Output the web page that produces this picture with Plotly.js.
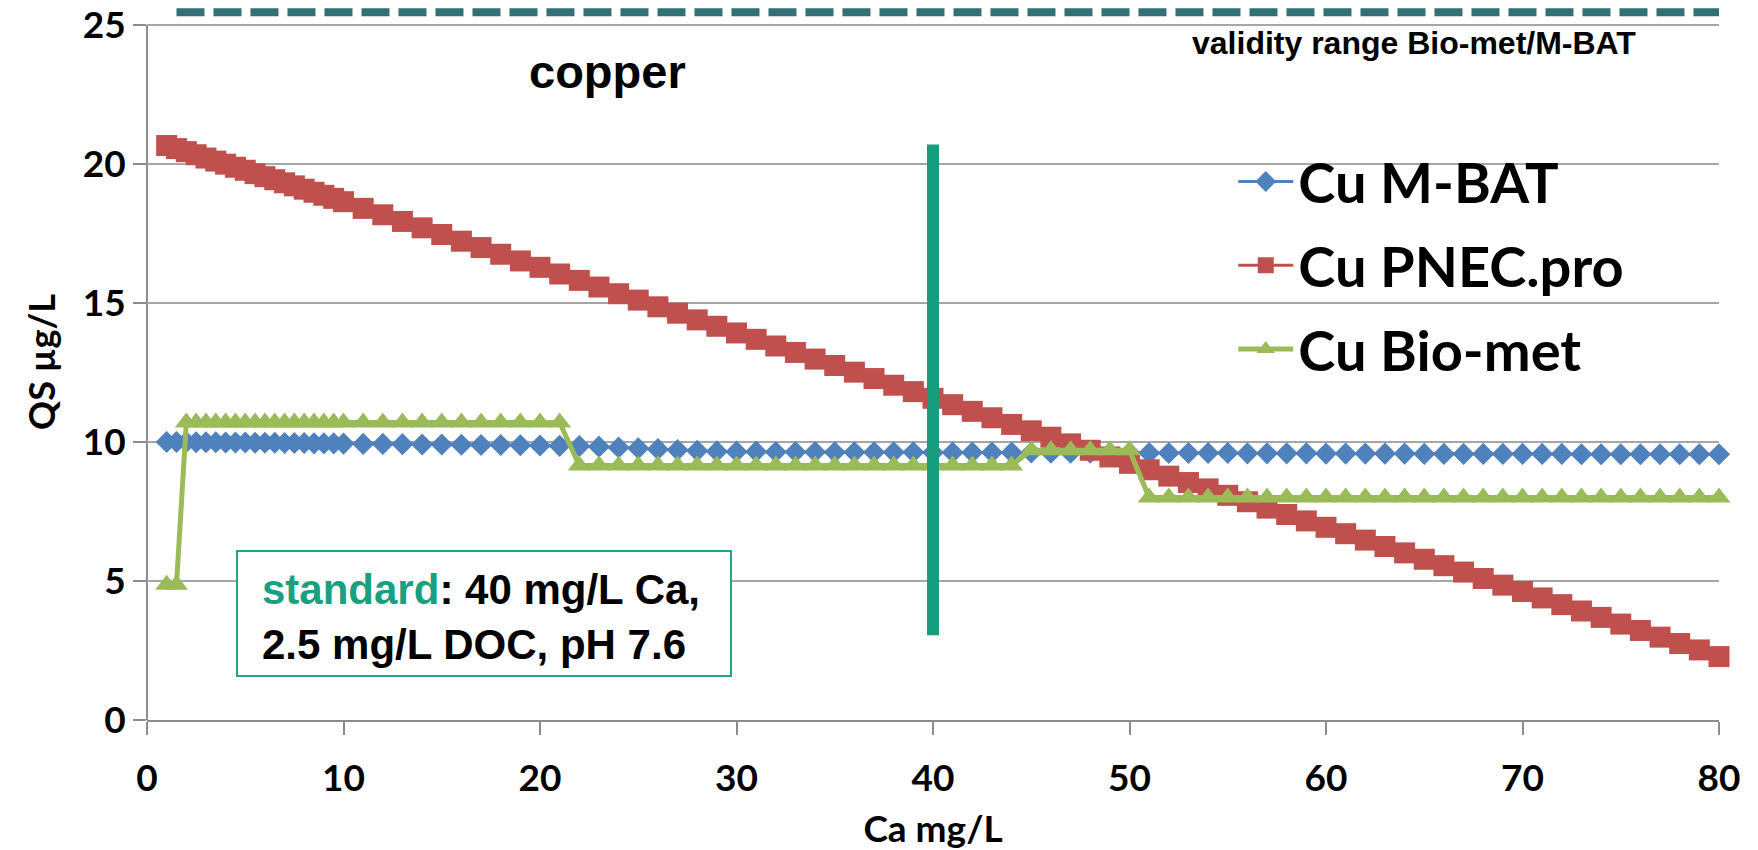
<!DOCTYPE html>
<html>
<head>
<meta charset="utf-8">
<script src="https://cdn.plot.ly/plotly-3.0.1.min.js"></script>
<style>html,body{margin:0;padding:0;background:#fff;}#chart{width:1758px;height:850px;}</style>
</head>
<body>
<div id="chart"></div>
<script>
// Ca concentration (mg/L)
var caX = [1,1.5,2,2.5,3,3.5,4,4.5,5,5.5,6,6.5,7,7.5,8,8.5,9,9.5,10,
  11,12,13,14,15,16,17,18,19,20,
  21,22,23,24,25,26,27,28,29,30,
  31,32,33,34,35,36,37,38,39,40,
  41,42,43,44,45,46,47,48,49,50,
  51,52,53,54,55,56,57,58,59,60,
  61,62,63,64,65,66,67,68,69,70,
  71,72,73,74,75,76,77,78,79,80];

var cuMBAT = [10.00,10.00,10.00,9.99,9.99,9.99,9.98,9.98,9.98,9.97,9.97,9.97,9.96,9.96,9.96,9.95,9.95,9.95,9.94,
  9.93,9.93,9.92,9.91,9.91,9.90,9.89,9.89,9.88,9.87,
  9.86,9.85,9.83,9.80,9.77,9.74,9.71,9.68,9.66,9.65,
  9.65,9.64,9.64,9.64,9.63,9.63,9.63,9.63,9.63,9.62,
  9.62,9.62,9.62,9.62,9.62,9.61,9.61,9.61,9.61,9.61,
  9.60,9.60,9.60,9.60,9.60,9.59,9.59,9.59,9.59,9.58,
  9.58,9.58,9.58,9.58,9.57,9.57,9.57,9.57,9.57,9.57,
  9.57,9.57,9.56,9.56,9.56,9.56,9.56,9.56,9.56,9.56];

var cuPNEC = [20.66,20.55,20.44,20.33,20.21,20.10,19.99,19.88,19.77,19.65,19.54,19.43,19.32,19.21,19.09,18.98,18.87,18.76,18.64,
  18.40,18.17,17.93,17.70,17.46,17.22,16.99,16.75,16.51,16.28,
  16.04,15.81,15.57,15.33,15.10,14.86,14.63,14.39,14.16,13.92,
  13.69,13.45,13.22,12.98,12.75,12.51,12.28,12.04,11.81,11.57,
  11.34,11.10,10.87,10.63,10.40,10.17,9.93,9.70,9.46,9.23,
  9.00,8.77,8.54,8.31,8.08,7.85,7.62,7.39,7.16,6.93,
  6.70,6.47,6.24,6.01,5.78,5.55,5.32,5.09,4.85,4.62,
  4.39,4.15,3.92,3.69,3.45,3.22,2.98,2.75,2.52,2.28];

var cuBiomet = [4.86,4.86,10.7,10.7,10.7,10.7,10.7,10.7,10.7,10.7,10.7,10.7,10.7,10.7,10.7,10.7,10.7,10.7,10.7,
  10.7,10.7,10.7,10.7,10.7,10.7,10.7,10.7,10.7,10.7,
  10.7,9.15,9.15,9.15,9.15,9.15,9.15,9.15,9.15,9.15,
  9.15,9.15,9.15,9.15,9.15,9.15,9.15,9.15,9.15,9.15,
  9.15,9.15,9.15,9.15,9.7,9.7,9.7,9.7,9.7,9.7,
  8.0,8.0,8.0,8.0,8.0,8.0,8.0,8.0,8.0,8.0,
  8.0,8.0,8.0,8.0,8.0,8.0,8.0,8.0,8.0,8.0,
  8.0,8.0,8.0,8.0,8.0,8.0,8.0,8.0,8.0,8.0];

// standard (40 mg/L Ca) marker line
var stdX = [40, 40];
var stdY = [3.05, 20.7];

// validity range Bio-met/M-BAT
var validX = [1.5, 80];
var validY = [25.45, 25.45];

var xTicks = [0,10,20,30,40,50,60,70,80];
var yTicks = [0,5,10,15,20,25];

var seriesNames = ['Cu M-BAT', 'Cu PNEC.pro', 'Cu Bio-met'];

var tickFont = {family: 'Lato, "Open Sans", sans-serif', size: 37, color: '#000', weight: 'bold'};
var gray = '#8c8c8c';

var traces = [
  {x: caX, y: cuMBAT, name: seriesNames[0], type: 'scatter', mode: 'lines+markers',
   line: {color: '#4F81BD', width: 3}, marker: {symbol: 'diamond', size: 17, color: '#4F81BD'},
   cliponaxis: false, legendgroup: 'a'},
  {x: caX, y: cuPNEC, name: seriesNames[1], type: 'scatter', mode: 'lines+markers',
   line: {color: '#C0504D', width: 3}, marker: {symbol: 'square', size: 21, color: '#C0504D'},
   cliponaxis: false, legendgroup: 'b'},
  {x: caX, y: cuBiomet, name: seriesNames[2], type: 'scatter', mode: 'lines+markers',
   line: {color: '#9BBB59', width: 5}, marker: {symbol: 'triangle-up', size: 20, color: '#9BBB59'},
   cliponaxis: false, legendgroup: 'c'},
  {x: stdX, y: stdY, type: 'scatter', mode: 'lines', showlegend: false, hoverinfo: 'skip',
   line: {color: '#179C7D', width: 12}},
  {x: validX, y: validY, type: 'scatter', mode: 'lines', showlegend: false, hoverinfo: 'skip',
   line: {color: '#317075', width: 8, dash: '28px,9px'}, cliponaxis: false}
];

var layout = {
  width: 1758, height: 850,
  margin: {l: 147, r: 39, t: 4, b: 130},
  paper_bgcolor: '#fff', plot_bgcolor: '#fff',
  showlegend: true,
  legend: {x: 0.691, y: 0.812, xanchor: 'left', yanchor: 'top',
    font: {family: 'Lato, "Open Sans", sans-serif', size: 56, color: '#000', weight: 'bold'},
    bgcolor: 'rgba(0,0,0,0)', itemwidth: 55, tracegroupgap: 8},
  xaxis: {range: [0, 80], tickvals: xTicks, ticktext: xTicks.map(String),
    ticks: 'outside', ticklen: 13, tickwidth: 2, tickcolor: gray,
    showline: true, linecolor: gray, linewidth: 2, showgrid: false, zeroline: false,
    tickfont: tickFont, ticklabelstandoff: 12,
    title: {text: 'Ca mg/L', font: tickFont, standoff: 26}},
  yaxis: {range: [0, 25.75], tickvals: yTicks, ticktext: yTicks.map(String),
    ticks: 'outside', ticklen: 13, tickwidth: 2, tickcolor: gray,
    showline: false, showgrid: true, gridcolor: '#a6a6a6', gridwidth: 2, zeroline: false,
    tickfont: tickFont, ticklabelstandoff: 0,
    title: {text: 'QS µg/L', font: {family: 'Lato, "Open Sans", sans-serif', size: 36, color: '#000', weight: 'bold'}, standoff: 16}},
  shapes: [
    {type: 'line', xref: 'paper', yref: 'y', x0: 0, x1: 0, y0: 0, y1: 25, line: {color: gray, width: 2}, layer: 'below'},
    {type: 'rect', xref: 'x', yref: 'y', x0: 4.58, x1: 29.72, y0: 1.58, y1: 6.08,
     line: {color: '#1FA58A', width: 2}, fillcolor: '#fff', layer: 'above'}
  ],
  annotations: [
    {text: 'copper', xref: 'x', yref: 'y', x: 23.41, y: 23.33, xanchor: 'center', yanchor: 'middle', showarrow: false,
     font: {family: '"Liberation Sans", Arial, sans-serif', size: 47, color: '#000', weight: 'bold'}},
    {text: 'validity range Bio-met/M-BAT', xref: 'x', yref: 'y', x: 53.08, y: 24.35, xanchor: 'left', yanchor: 'middle', showarrow: false,
     font: {family: '"Liberation Sans", Arial, sans-serif', size: 32, color: '#000', weight: 'bold'}},
    {text: '<span style="color:#19A080">standard</span>: 40 mg/L Ca,<br>2.5 mg/L DOC, pH 7.6',
     xref: 'x', yref: 'y', x: 5.75, y: 3.72, xanchor: 'left', yanchor: 'middle', showarrow: false,
     align: 'left',
     font: {family: '"Liberation Sans", Arial, sans-serif', size: 42, color: '#000', weight: 'bold'}}
  ]
};

Plotly.newPlot('chart', traces, layout, {displayModeBar: false, staticPlot: true});
</script>
</body>
</html>
